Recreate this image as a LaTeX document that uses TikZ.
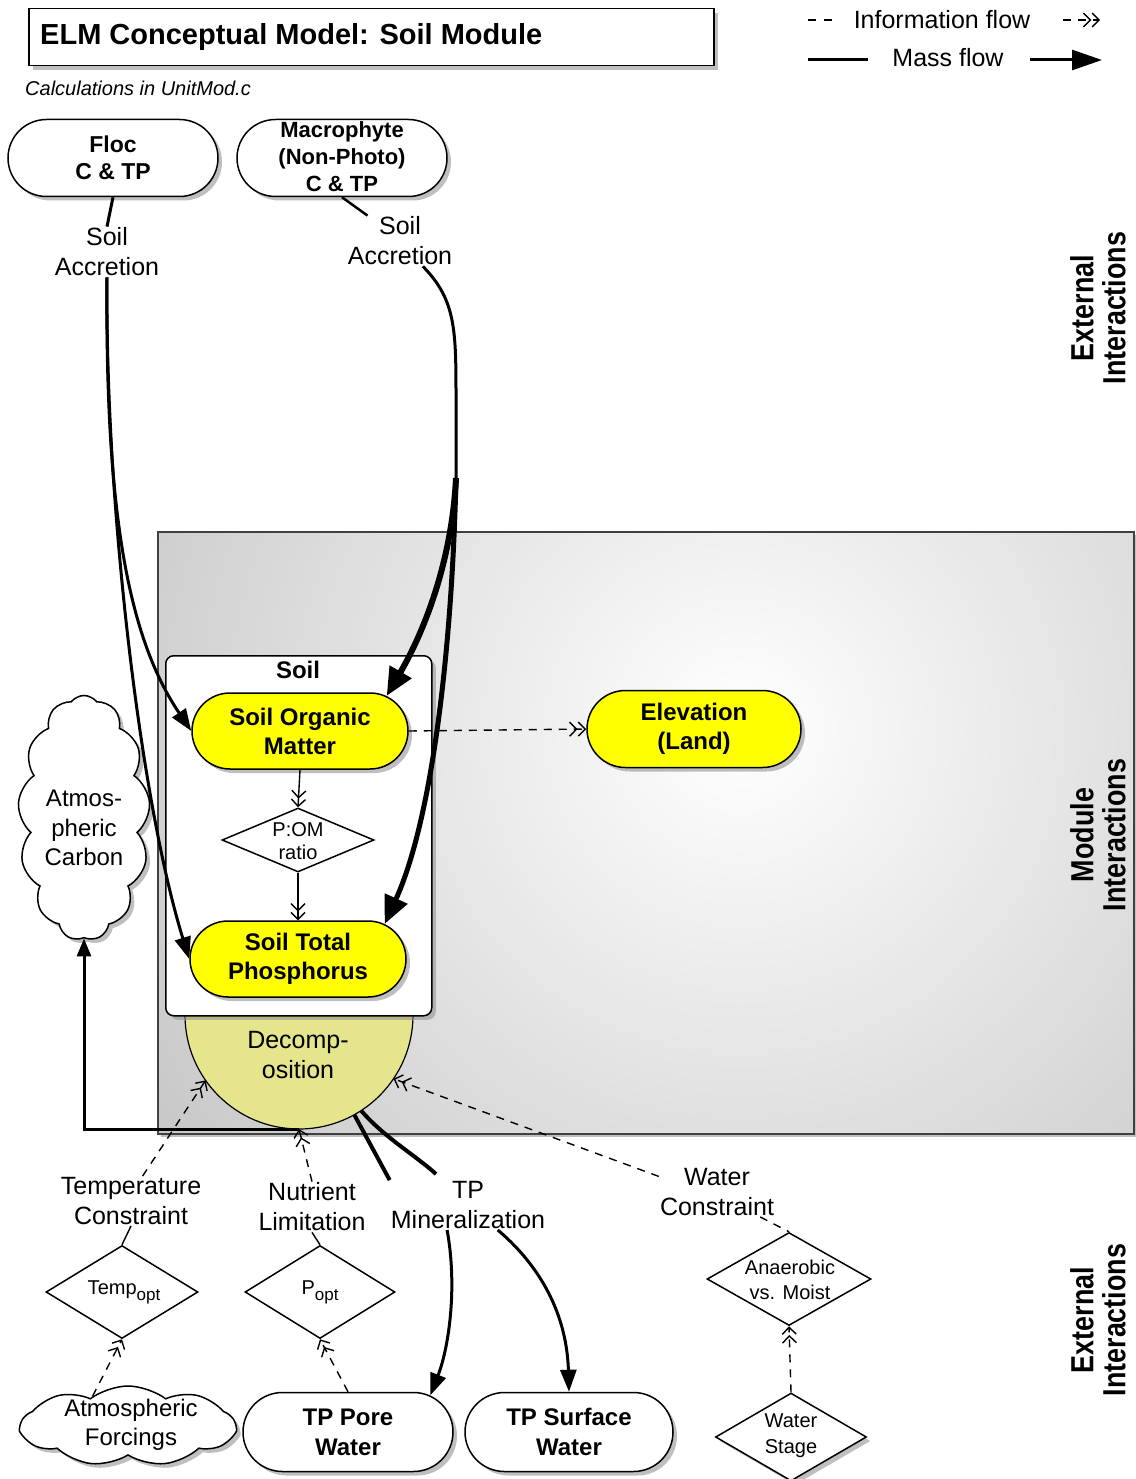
\documentclass[tikz,border=0pt]{standalone}
\usepackage{fontspec}
\setmainfont{Liberation Sans}
\newfontfamily\narrowfont[FakeStretch=0.84]{Liberation Sans}
\usetikzlibrary{arrows.meta,shapes.misc,shapes.geometric,shapes.symbols,shadows,calc}
\newcommand\myfs[2]{\fontsize{#1}{#2}\selectfont}
\definecolor{nodeyellow}{RGB}{255,255,0}
\definecolor{decompfill}{RGB}{228,229,140}
\begin{document}
\begin{tikzpicture}[x=1pt,y=-1pt,
 shad/.style={drop shadow={shadow xshift=4pt,shadow yshift=-4pt,fill=black!45,opacity=0.55}},
 pill/.style={rounded rectangle, draw, line width=1.5pt, fill=white, shad, align=center, inner sep=0pt},
 ypill/.style={pill, fill=nodeyellow, font=\bfseries\myfs{24}{29}},
 wpill/.style={pill, font=\bfseries\myfs{24}{30}},
 lbl/.style={align=center, font=\myfs{25}{30}, inner sep=1pt},
 diam/.style={diamond, draw, line width=1.5pt, fill=white, inner sep=0pt},
 dtxt/.style={align=center, font=\myfs{20}{25}, inner sep=0pt},
 cloudn/.style={cloud, cloud puffs=13, cloud puff arc=105, cloud ignores aspect, draw, line width=1.5pt, fill=white, shad, inner sep=0pt},
 mass/.style={line width=3pt, -{Triangle[length=22pt,width=16pt]}},
 bigmass/.style={line width=6pt, -{Triangle[length=28pt,width=24pt]}},
 barbs/.style={-{Straight Barb[length=7pt,width=14pt] Straight Barb[length=7pt,width=14pt]}},
 info/.style={line width=1.4pt, dash pattern=on 8pt off 7pt, barbs},
 infos/.style={line width=1.4pt, barbs},
 rotl/.style={rotate=90, align=center, font=\narrowfont\bfseries\myfs{32}{32}, inner sep=0pt}
]
\useasboundingbox (0,0) rectangle (1135,1479);
\fill[white] (0,0) rectangle (1135,1479);

% ---- title and legend
\node[draw, line width=1.5pt, fill=white, shad, minimum width=685, minimum height=57, anchor=north west, inner sep=0pt] (titlebox) at (28,8) {};
\node[anchor=west, font=\bfseries\myfs{29}{34}, inner sep=0pt] (title) at (40,37) {ELM Conceptual Model: Soil Module};
\node[anchor=west, font=\itshape\myfs{20}{24}, inner sep=0pt] (calc) at (25,88) {Calculations in UnitMod.c};

\coordinate (lgi1) at (808,20); \coordinate (lgi2) at (832,20);
\draw[line width=1.4pt, dash pattern=on 8pt off 8pt] (lgi1) -- (lgi2);
\node[lbl] (lginfo) at (942,20) {Information flow};
\coordinate (lgi3) at (1063,20); \coordinate (lgi4) at (1100,20);
\draw[info] (lgi3) -- (lgi4);
\coordinate (lgm1) at (808,60); \coordinate (lgm2) at (868,60);
\draw[line width=3pt] (lgm1) -- (lgm2);
\node[lbl] (lgmass) at (948,58) {Mass flow};
\coordinate (lgm3) at (1030,60); \coordinate (lgm4) at (1102,60);
\draw[line width=3pt, -{Triangle[length=30pt,width=20pt]}] (lgm3) -- (lgm4);

% ---- module interactions box
\fill[black!45, opacity=0.55] (161,535) rectangle (1137,1137);
\begin{scope}
\clip (157,531) rectangle (1133,1133);
\shade[inner color=white, outer color=black!40] (740,730) circle (1300);
\end{scope}
\node[draw=black!75, line width=1.5pt, minimum width=976, minimum height=602, anchor=north west, inner sep=0pt] (modbox) at (157,531) {};

% ---- decomposition
\coordinate (dc) at (299,1015);
\draw[line width=1.2pt, fill=decompfill] (185,1015) arc[start angle=180, end angle=0, radius=114] -- cycle;
\node[lbl] (dec) at (298,1055) {Decomp-\\osition};

% ---- soil box
\node[draw, line width=1.5pt, fill=white, rounded corners=8pt, shad, minimum width=266, minimum height=360, anchor=north west, inner sep=0pt] (soilbox) at (165,655) {};
\node[font=\bfseries\myfs{24}{29}, inner sep=0pt] (soillbl) at (298,670) {Soil};

% ---- nodes
\node[wpill, minimum width=210, minimum height=77, font=\bfseries\myfs{23}{27}] (floc) at (113,158) {Floc\\C \& TP};
\node[pill, minimum width=210, minimum height=77] (macro) at (342,158) {};
\node[align=center, font=\bfseries\myfs{22}{27}, inner sep=0pt] (macrot) at (342,157) {Macrophyte\\(Non-Photo)\\C \& TP};
\node[lbl] (flacc) at (107,252) {Soil\\Accretion};
\node[lbl] (macacc) at (400,241) {Soil\\Accretion};

\node[ypill, minimum width=216, minimum height=76] (som) at (300,731) {Soil Organic\\Matter};
\node[ypill, minimum width=214, minimum height=77] (elev) at (694,729) {Elevation\\(Land)};
\node[ypill, minimum width=216, minimum height=76] (stp) at (298,959) {Soil Total\\Phosphorus};
\node[diam, minimum width=152, minimum height=64] (pom) at (298,840) {};
\node[dtxt, font=\myfs{20}{23}] (pomt) at (298,841) {P:OM\\ratio};

\node[cloudn, minimum width=132, minimum height=245] (atmc) at (84,818) {};
\node[lbl, font=\myfs{24}{29.5}] (atmct) at (84,828) {Atmos-\\pheric\\Carbon};

\node[rotl] (ext1) at (1098,308) {External\\Interactions};
\node[rotl] (modi) at (1098,835) {Module\\Interactions};
\node[rotl] (ext2) at (1098,1320) {External\\Interactions};

% ---- bottom nodes
\node[lbl] (tc) at (131,1201) {Temperature\\Constraint};
\node[lbl] (nl) at (312,1207) {Nutrient\\Limitation};
\node[lbl] (tpm) at (468,1205) {TP\\Mineralization};
\node[lbl] (wc) at (717,1192) {Water\\Constraint};

\node[diam, minimum width=152, minimum height=93] (tempd) at (122,1292) {};
\node[dtxt] (tempt) at (124,1292) {Temp\raisebox{-6pt}{\myfs{17}{20}opt}};
\node[diam, minimum width=150, minimum height=93] (poptd) at (320,1292) {};
\node[dtxt] (poptt) at (320,1292) {P\raisebox{-6pt}{\myfs{17}{20}opt}};
\node[diam, minimum width=164, minimum height=93] (anad) at (789,1279) {};
\node[dtxt] (anat) at (790,1280) {Anaerobic\\vs. Moist};
\node[diam, shad, minimum width=151, minimum height=88] (wsd) at (791,1437) {};
\node[dtxt, font=\myfs{20}{26}] (wst) at (791,1436) {Water\\Stage};

\node[cloudn, cloud puffs=9, cloud puff arc=75, minimum width=214, minimum height=80] (atmf) at (128,1426) {};
\node[lbl, font=\myfs{24}{29}] (atmft) at (131,1425) {Atmospheric\\Forcings};
\node[wpill, minimum width=210, minimum height=79] (tppw) at (348,1432) {TP Pore\\Water};
\node[wpill, minimum width=208, minimum height=79] (tpsw) at (569,1432) {TP Surface\\Water};

% ---- upper connectors
\draw[line width=3pt] (floc.south) -- (flacc.north);
\draw[mass] (flacc.south) .. controls (105,520) and (130,640) .. (som.west);
\draw[mass] (flacc.south) .. controls (105,500) and (140,800) .. (stp.west);

\draw[line width=2.5pt] (macro.south) -- (macacc.142);
\coordinate (mJ) at (456,478);
\draw[line width=3pt] (macacc.-48) .. controls (456,300) and (456,330) .. (456,400) -- (mJ);
\draw[bigmass] (mJ) .. controls (452,560) and (425,630) .. (som.22);
\draw[line width=5pt, -{Triangle[length=28pt,width=24pt]}] (mJ) .. controls (452,650) and (432,820) .. (stp.22);

\draw[info] (som.east) -- (elev.west);
\draw[infos] (som.south) -- (pom.north);
\draw[infos] (pom.south) -- (stp.north);

% ---- decomposition connectors
\coordinate (dtemp) at ($(dc)+(145:114)$);
\coordinate (dbot) at ($(dc)+(90:114)$);
\coordinate (dwater) at ($(dc)+(34:114)$);
\coordinate (dtp1) at ($(dc)+(61:114)$);
\coordinate (dtp2) at ($(dc)+(57:114)$);
\coordinate (tpmA) at (436,1174);

\draw[mass, -{Triangle[length=18pt,width=14pt]}] (dbot) -| (atmc.south);
\draw[info] (tc.65) -- (dtemp);
\draw[line width=1.4pt] (tempd.north) -- (tc.south);
\draw[info] (atmf.140) -- (tempd.south);
\draw[info] (nl.north) -- (dbot);
\draw[line width=1.4pt] (poptd.north) -- (nl.south);
\draw[info] (tppw.north) -- (poptd.south);
\draw[line width=4pt] (dtp1) -- (tpm.north west);
\draw[line width=4pt] (dtp2) .. controls (385,1138) and (415,1155) .. (tpmA);
\draw[mass] (tpm.-130) .. controls (458,1290) and (448,1350) .. (tppw.24);
\draw[mass] (tpm.-40) .. controls (545,1270) and (567,1320) .. (tpsw.north);
\draw[info] (wc.165) -- (dwater);
\draw[line width=1.4pt, dash pattern=on 8pt off 7pt] (wc.-30) -- (anad.north);
\draw[info] (wsd.north) -- (anad.south);
\end{tikzpicture}
\end{document}
